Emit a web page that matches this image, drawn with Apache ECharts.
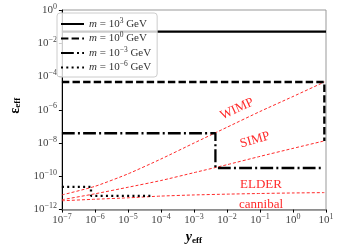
<!DOCTYPE html>
<html><head><meta charset="utf-8">
<script src="https://cdn.jsdelivr.net/npm/echarts@6/dist/echarts.min.js"></script>
<style>html,body{margin:0;padding:0;background:#fff}#c{width:340px;height:250px}</style>
</head><body><div id="c"></div>
<script>
// Boundary curves (red dashed), sampled at decades of y_eff
const redX   = [1e-7, 1e-6, 1e-5, 1e-4, 1e-3, 1e-2, 1e-1, 1, 8.9];
const wimpY  = [7.6e-12, 2.5e-11, 1.4e-10, 1.1e-9, 1.0e-8, 8.9e-8, 7.9e-7, 6.3e-6, 4.68e-5];
const simpY  = [3.9e-12, 8.9e-12, 2.2e-11, 5.6e-11, 1.66e-10, 5.0e-10, 1.58e-9, 4.8e-9, 1.35e-8];
const elderY = [3.4e-12, 4.2e-12, 5.1e-12, 6.5e-12, 7.6e-12, 8.5e-12, 9.3e-12, 1.0e-11, 1.05e-11];

// Mass curves (black)
const m3X  = [1e-7, 10];
const m3Y  = [0.05, 0.05];
const m0X  = [1e-7, 8.9, 8.9];
const m0Y  = [4.68e-5, 4.68e-5, 1.35e-8];
const mm3X = [1e-7, 4.47e-3, 4.47e-3, 8.13];
const mm3Y = [3.89e-8, 3.89e-8, 3.16e-10, 3.16e-10];
const mm6X = [1e-7, 7.6e-7, 7.6e-7, 6.0e-5];
const mm6Y = [2.34e-11, 2.34e-11, 6.76e-12, 6.76e-12];

const massNames = ['3', '0', '\u22123', '\u22126'];
const regionLabels = ['WIMP', 'SIMP', 'ELDER', 'cannibal'];

const zip = (xs, ys) => xs.map((x, i) => [x, ys[i]]);
const SERIF = "'Liberation Serif', 'DejaVu Serif', serif";
const supFmt = v => {
  const e = Math.round(Math.log10(v));
  return '{b|10}{s|' + (e < 0 ? '\u2212' + (-e) : e) + '}';
};
const richTick = {
  b: {fontSize: 11, fontFamily: SERIF, color: '#444'},
  s: {fontSize: 8, fontFamily: SERIF, color: '#444', padding: [0, 0, 7, 0]}
};

const blk = '#000';
const redStyle = {color: '#ff2a2a', width: 1, type: [3, 2]};

const chart = echarts.init(document.getElementById('c'), null, {renderer: 'canvas'});
chart.setOption({
  animation: false,
  grid: {left: 54, right: 14, top: 10, bottom: 37, show: true, borderColor: '#999', borderWidth: 1},
  legend: {
    orient: 'vertical', left: 57, top: 13,
    itemWidth: 23, itemHeight: 10, itemGap: 2,
    padding: [4, 6, 4, 3],
    backgroundColor: 'rgba(255,255,255,0.8)', borderColor: '#ccc', borderWidth: 1, borderRadius: 3,
    itemStyle: {opacity: 0},
    data: massNames.map(n => 'm' + n),
    formatter: name => '{i|m} = 10{s|' + name.slice(1) + '} GeV',
    textStyle: {
      fontFamily: SERIF, fontSize: 11, color: '#333', lineHeight: 11,
      rich: {
        i: {fontFamily: SERIF, fontStyle: 'italic', fontSize: 11, color: '#333'},
        s: {fontFamily: SERIF, fontSize: 7.5, color: '#333', padding: [0, 0, 6, 0]}
      }
    }
  },
  xAxis: {
    type: 'log', logBase: 10, min: 1e-7, max: 10, splitNumber: 8,
    name: '{y|y}{s|eff}', nameLocation: 'middle', nameGap: 20,
    nameTextStyle: {rich: {
      y: {fontFamily: SERIF, fontStyle: 'italic', fontWeight: 'bold', fontSize: 14, color: '#000'},
      s: {fontFamily: SERIF, fontWeight: 'bold', fontSize: 9, color: '#000', padding: [6, 0, 0, 0]}
    }},
    axisLine: {lineStyle: {color: '#888', width: 1.5}},
    axisTick: {inside: false, length: 3, lineStyle: {color: '#000'}},
    axisLabel: {formatter: supFmt, rich: richTick, margin: 3},
    splitLine: {show: false}
  },
  yAxis: {
    type: 'log', logBase: 10, min: 1e-12, max: 1, interval: 2, splitNumber: 6,
    name: '{e|\u03b5}{s|eff}', nameLocation: 'middle', nameGap: 33,
    nameTextStyle: {padding: [0, 0, 0, 8], rich: {
      e: {fontFamily: SERIF, fontWeight: 'bold', fontSize: 14, color: '#000'},
      s: {fontFamily: SERIF, fontWeight: 'bold', fontSize: 9, color: '#000', padding: [6, 0, 0, 0]}
    }},
    axisLine: {lineStyle: {color: '#000', width: 1}},
    axisTick: {inside: false, length: 3, lineStyle: {color: '#000'}},
    axisLabel: {formatter: supFmt, rich: richTick, margin: 5, hideOverlap: false},
    splitLine: {show: false}
  },
  series: [
    {type: 'line', data: zip(redX, wimpY), symbol: 'none', smooth: 0.2, lineStyle: redStyle, silent: true},
    {type: 'line', data: zip(redX, simpY), symbol: 'none', smooth: 0.2, lineStyle: redStyle, silent: true},
    {type: 'line', data: zip(redX, elderY), symbol: 'none', smooth: 0.2, lineStyle: redStyle, silent: true},
    {name: 'm3', type: 'line', data: zip(m3X, m3Y), symbol: 'none', color: blk,
     lineStyle: {color: blk, width: 2.3, type: 'solid'}},
    {name: 'm0', type: 'line', data: zip(m0X, m0Y), symbol: 'none', color: blk,
     lineStyle: {color: blk, width: 2.3, type: [7.4, 3.2], cap: 'butt'}},
    {name: 'm\u22123', type: 'line', data: zip(mm3X, mm3Y), symbol: 'none', color: blk,
     lineStyle: {color: blk, width: 2.3, type: [12.8, 3.2, 2, 3.2], cap: 'butt'}},
    {name: 'm\u22126', type: 'line', data: zip(mm6X, mm6Y), symbol: 'none', color: blk,
     lineStyle: {color: blk, width: 2.3, type: [2, 3.3], cap: 'butt'}}
  ],
  graphic: [
    {type: 'text', x: 237, y: 109, rotation: 25 * Math.PI / 180,
     style: {text: regionLabels[0], fill: '#ff2a2a', font: "13px 'Liberation Serif'", align: 'center', verticalAlign: 'middle'}},
    {type: 'text', x: 255, y: 140, rotation: 16 * Math.PI / 180,
     style: {text: regionLabels[1], fill: '#ff2a2a', font: "13px 'Liberation Serif'", align: 'center', verticalAlign: 'middle'}},
    {type: 'text', x: 261, y: 185,
     style: {text: regionLabels[2], fill: '#ff2a2a', font: "13px 'Liberation Serif'", align: 'center', verticalAlign: 'middle'}},
    {type: 'text', x: 261, y: 205,
     style: {text: regionLabels[3], fill: '#ff2a2a', font: "13px 'Liberation Serif'", align: 'center', verticalAlign: 'middle'}}
  ]
});
</script></body></html>
